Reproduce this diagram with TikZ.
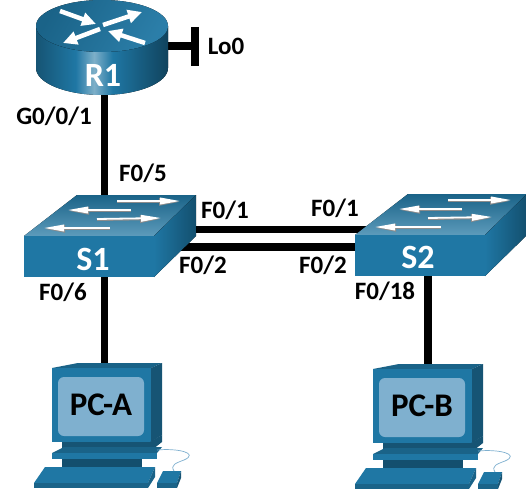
\documentclass[tikz,border=0pt]{standalone}
\usepackage{fontspec}
\setmainfont{Carlito}
\usetikzlibrary{arrows.meta,backgrounds}
\definecolor{ciscoA}{HTML}{1F77A4}
\definecolor{ciscoD}{HTML}{134F6E}
\definecolor{ciscoM}{HTML}{1A6388}
\definecolor{ciscoL}{HTML}{5D9BBB}
\definecolor{screen}{HTML}{7FB0CF}
\pgfdeclarehorizontalshading{cylside}{100bp}{
 color(0bp)=(ciscoM!85!black); color(25bp)=(ciscoM!85!black); color(40bp)=(ciscoA); color(47bp)=(ciscoL!80!white); color(54bp)=(ciscoA); color(75bp)=(ciscoD!85!black); color(100bp)=(ciscoD!85!black)}
\pgfdeclarehorizontalshading{swside}{100bp}{
 color(0bp)=(ciscoA); color(25bp)=(ciscoA); color(75bp)=(ciscoD); color(100bp)=(ciscoD)}
\tikzset{
 x=1pt,y=-1pt,
 link/.style={line width=7.5pt,black},
 lab/.style={font=\fontsize{25}{25}\selectfont\bfseries,inner sep=0pt,anchor=center,black},
 devname/.style={font=\fontsize{34}{34}\selectfont\bfseries,inner sep=0pt,white},
 pcname/.style={font=\fontsize{33}{33}\selectfont\bfseries,inner sep=0pt,black},
 rarrow/.style={white,line width=4.5pt,-{Triangle[length=14pt,width=13pt]}},
 sarrow/.style={white,line width=1.8pt,-{Triangle[length=20pt,width=6.5pt]}},
 shadowarrow/.style={black!45,line width=2.4pt,-{Triangle[length=21pt,width=7.2pt]}},
 pics/switchbox/.style={code={
  \fill[shading=axis,top color=ciscoM,bottom color=ciscoL] (0,0) -- (53,-41) -- (172,-41) -- (130,0) -- cycle;
  \fill[shading=swside] (130,0) -- (172,-41) -- (172,0) -- (130,41) -- cycle;
  \fill[ciscoA] (0,0) rectangle (130,41);
  \foreach \ax/\ay/\bx/\by in {93/-35/156/-35, 107/-26/44/-26, 73/-17/137/-18, 86/-8/20/-8}{
   \draw[shadowarrow] (\ax,\ay+0.8) -- (\bx,\by+0.8);
   \draw[sarrow] (\ax,\ay) -- (\bx,\by);
  }
 }},
 pics/pcbox/.style={code={
  \fill[ciscoM] (0,0) -- (26,-5) -- (110,-5) -- (99,0) -- cycle;
  \fill[ciscoM!85!black] (99,0) -- (110,-5) -- (110,67) -- (99,74) -- cycle;
  \fill[ciscoA] (0,0) rectangle (99,74);
  \fill[screen,rounded corners=6pt] (6,9) rectangle (92,68);
  \fill[ciscoM!85!black] (10,74) -- (98,74) -- (110,67) -- (110,74) -- (96,85) -- (10,85) -- cycle;
  \fill[ciscoM] (0,85) -- (12,79) -- (110,79) -- (105,85) -- cycle;
  \fill[ciscoA] (0,85) rectangle (105,91);
  \fill[ciscoD] (10,91) rectangle (90,99);
  \fill[ciscoA] (-7,99) -- (103,99) -- (96,115) -- (-18,115) -- cycle;
  \fill[ciscoM] (-18,115) rectangle (96,120);
  \fill[ciscoM] (96,115) -- (103,99) -- (103,109) -- (96,120) -- cycle;
  \fill[ciscoA] (111,103) -- (129,103) -- (125,115) -- (105,115) -- cycle;
  \fill[ciscoM] (105,115) rectangle (125,120);
  \fill[ciscoM!85!black] (125,115) -- (129,103) -- (129,110) -- (125,120) -- cycle;
  \draw[screen,line width=0.7pt] (105,82) .. controls (125,80) and (148,85) .. (132,92) .. controls (124,95) and (118,97) .. (122,103);
 }}
}
\begin{document}
\begin{tikzpicture}
\useasboundingbox (0,0) rectangle (526,489);
% router
\fill[shading=cylside] (36,26) -- (36,68) arc[start angle=180,end angle=0,x radius=66,y radius=27] -- (168,26) -- cycle;
\fill[shading=axis,left color=ciscoM,right color=ciscoA!80!ciscoL,shading angle=60] (102,26) ellipse[x radius=66,y radius=26];
\foreach \ax/\ay/\bx/\by in {60/11/96/24, 103/25/142/12, 100/29/63/43, 145/43/108/31}{
 \draw[rarrow] (\ax,\ay) -- (\bx,\by);
}
\node[devname] (R1) at (103,75) {R1};
% switches
\pic at (24,236) {switchbox};
\pic at (355,235) {switchbox};
\node[devname] (S1) at (93,259) {S1};
\node[devname] (S2) at (418,257) {S2};
% PCs
\pic at (52,368) {pcbox};
\pic at (373,369) {pcbox};
\node[pcname] (PCA) at (101,405) {PC-A};
\node[pcname] (PCB) at (422,406) {PC-B};
% connector end points, hidden under the devices
\coordinate (r1s) at (104.5,85);
\coordinate (r1e) at (160,46);
\coordinate (lo) at (195,46);
\coordinate (lot) at (195,27);
\coordinate (lob) at (195,66);
\coordinate (s1n) at (104.5,200);
\coordinate (s1s) at (104.5,270);
\coordinate (s1a) at (170,229.5);
\coordinate (s1b) at (170,247);
\coordinate (s2a) at (380,229.5);
\coordinate (s2b) at (380,247);
\coordinate (s2s) at (428,270);
\coordinate (pcan) at (104.5,368);
\coordinate (pcbn) at (428,369);
\begin{pgfonlayer}{background}
\draw[link] (r1s) -- (s1n);
\draw[link] (r1e) -- (lo);
\draw[link] (lot) -- (lob);
\draw[link] (s1s) -- (pcan);
\draw[link] (s1a) -- (s2a);
\draw[link] (s1b) -- (s2b);
\draw[link] (s2s) -- (pcbn);
\end{pgfonlayer}
% labels
\node[lab] (l0) at (226,46) {Lo0};
\node[lab] (l1) at (54,116) {G0/0/1};
\node[lab] (l2) at (143,173) {F0/5};
\node[lab] (l3) at (225,210) {F0/1};
\node[lab] (l4) at (203,265) {F0/2};
\node[lab] (l5) at (63,292) {F0/6};
\node[lab] (l6) at (335,208) {F0/1};
\node[lab] (l7) at (323,265) {F0/2};
\node[lab] (l8) at (385,291) {F0/18};
\end{tikzpicture}
\end{document}
